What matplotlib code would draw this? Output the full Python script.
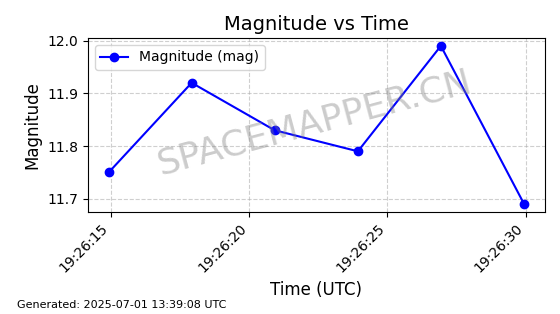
import datetime as dt
import matplotlib
matplotlib.use("Agg")
import matplotlib.pyplot as plt
import matplotlib.dates as mdates

times = ["19:26:14.92", "19:26:17.92", "19:26:20.92", "19:26:23.93", "19:26:26.93", "19:26:29.94"]
mags = [11.75, 11.92, 11.83, 11.79, 11.99, 11.69]

base = dt.date(2025, 7, 1)
ts = [dt.datetime.combine(base, dt.time.fromisoformat(t.ljust(15, "0"))) for t in times]

fig = plt.figure(figsize=(5.6, 3.14), dpi=100)
ax = fig.add_axes([0.157, 0.325, 0.816, 0.554])
ax.plot(ts, mags, "o-", color="blue", markersize=6, linewidth=1.5, label="Magnitude (mag)")
ax.set_title("Magnitude vs Time", fontsize=14)
ax.set_xlabel("Time (UTC)", fontsize=12)
ax.set_ylabel("Magnitude", fontsize=12)
ax.grid(True, linestyle="--", alpha=0.6)
ax.legend(loc="upper left")
ax.xaxis.set_major_locator(mdates.SecondLocator(bysecond=range(0, 60, 5)))
ax.xaxis.set_major_formatter(mdates.DateFormatter("%H:%M:%S"))
plt.setp(ax.get_xticklabels(), rotation=45, ha="right")

ax.text(0.495, 0.51, "SPACEMAPPER.CN", transform=ax.transAxes, fontsize=26,
        color="gray", alpha=0.4, rotation=15, ha="center", va="center")
fig.text(0.03, 0.02, "Generated: 2025-07-01 13:39:08 UTC", fontsize=8)

plt.savefig("out.png", dpi=100)
